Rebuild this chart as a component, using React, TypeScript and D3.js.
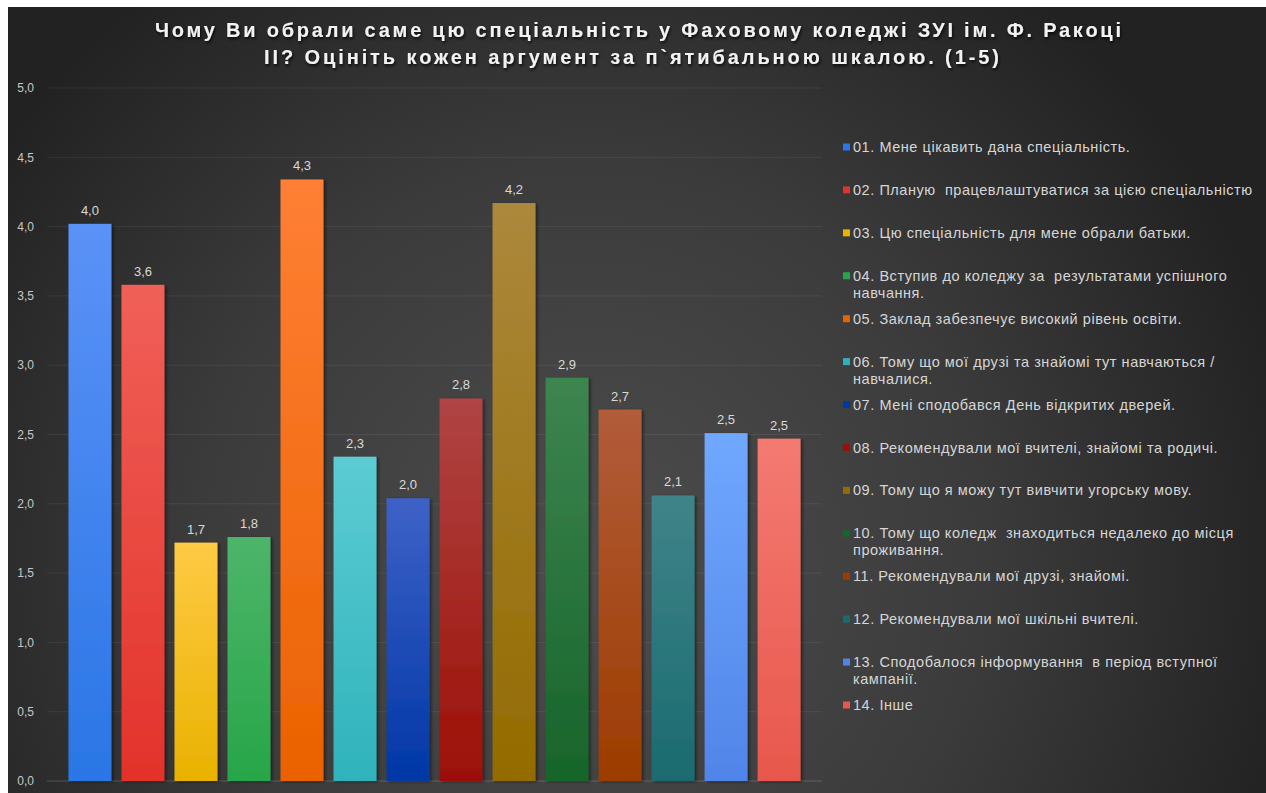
import React from 'react'
import * as d3 from 'd3'

// values
const codes = ['01', '02', '03', '04', '05', '06', '07', '08', '09', '10', '11', '12', '13', '14']
const scores = [4.02, 3.58, 1.72, 1.76, 4.34, 2.34, 2.04, 2.76, 4.17, 2.91, 2.68, 2.06, 2.51, 2.47]
const topColors = ['#5b92f7', '#f06058', '#ffca45', '#4db56a', '#ff7f35', '#5ccbd3', '#3e62c7', '#b04444', '#ac883c', '#3d8550', '#b25c3a', '#3f8489', '#70a8ff', '#f47a72']
const bottomColors = ['#2a76e6', '#e3322a', '#e9b200', '#27a649', '#ea6200', '#2fb3bb', '#0037a6', '#9c1006', '#936b00', '#17652a', '#9c3c00', '#1a6b70', '#5085e8', '#e8574c']
const legendLabels = [
  ['01. Мене цікавить дана спеціальність.'],
  ['02. Планую  працевлаштуватися за цією спеціальністю'],
  ['03. Цю спеціальність для мене обрали батьки.'],
  ['04. Вступив до коледжу за  результатами успішного', 'навчання.'],
  ['05. Заклад забезпечує високий рівень освіти.'],
  ['06. Тому що мої друзі та знайомі тут навчаються /', 'навчалися.'],
  ['07. Мені сподобався День відкритих дверей.'],
  ['08. Рекомендували мої вчителі, знайомі та родичі.'],
  ['09. Тому що я можу тут вивчити угорську мову.'],
  ['10. Тому що коледж  знаходиться недалеко до місця', 'проживання.'],
  ['11. Рекомендували мої друзі, знайомі.'],
  ['12. Рекомендували мої шкільні вчителі.'],
  ['13. Сподобалося інформування  в період вступної', 'кампанії.'],
  ['14. Інше'],
]
const yTicks = [0, 0.5, 1, 1.5, 2, 2.5, 3, 3.5, 4, 4.5, 5]
const titleLines = [
  'Чому Ви обрали саме цю спеціальність у Фаховому коледжі ЗУІ ім. Ф. Ракоці',
  'ІІ? Оцініть кожен аргумент за п`ятибальною шкалою. (1-5)',
]

const W = 1266
const H = 793
const plot = { left: 47, right: 822, top: 88, bottom: 781 }
const font = '"Liberation Sans", Arial, sans-serif'

// keep the double spaces of the original labels
const keepSpaces = (s: string) => s.replace(/  /g, ' \u00a0')

export default function App() {
  const x = d3.scaleBand<string>()
    .domain(codes)
    .range([plot.left, plot.right])
    .paddingInner(0.19)
    .paddingOuter(0.405)
  const y = d3.scaleLinear().domain([0, 5]).range([plot.bottom, plot.top])
  const fmt = (v: number) => d3.format('.1f')(v).replace('.', ',')

  const legendY = d3.scalePoint<string>().domain(codes).range([147, 705])

  return (
    <svg width={W} height={H} style={{ position: 'absolute', left: 0, top: 0, fontFamily: font }}>
      <defs>
        <radialGradient id="bg" gradientUnits="userSpaceOnUse" cx={590} cy={560} r={720}>
          <stop offset="0" stopColor="#4d4d4d" />
          <stop offset="0.55" stopColor="#3b3b3b" />
          <stop offset="1" stopColor="#222222" />
        </radialGradient>
        {codes.map((c, i) => (
          <linearGradient key={c} id={`bar${i}`} x1="0" y1="0" x2="0" y2="1">
            <stop offset="0" stopColor={topColors[i]} />
            <stop offset="1" stopColor={bottomColors[i]} />
          </linearGradient>
        ))}
        <filter id="shadow" x="-20%" y="-5%" width="140%" height="110%">
          <feDropShadow dx="2" dy="1" stdDeviation="1.5" floodColor="#000" floodOpacity="0.45" />
        </filter>
        <filter id="tshadow" x="-5%" y="-30%" width="110%" height="160%">
          <feDropShadow dx="1" dy="2" stdDeviation="1.5" floodColor="#000" floodOpacity="0.8" />
        </filter>
      </defs>

      <rect x={0} y={0} width={W} height={H} fill="#ffffff" />
      <rect x={8} y={7} width={W - 8} height={H - 7} fill="url(#bg)" />

      {/* title */}
      <g fill="#f2f2f2" fontWeight="bold" fontSize={20} filter="url(#tshadow)">
        <text x={155} y={37} textLength={966} lengthAdjust="spacing">{titleLines[0]}</text>
        <text x={264} y={64} textLength={735} lengthAdjust="spacing">{titleLines[1]}</text>
      </g>

      {/* gridlines and y axis */}
      {yTicks.map(t => (
        <g key={t}>
          <line
            x1={plot.left}
            x2={plot.right}
            y1={y(t)}
            y2={y(t)}
            stroke={t === 0 ? 'rgba(255,255,255,0.18)' : 'rgba(255,255,255,0.07)'}
            strokeWidth={1}
          />
          <text x={34} y={y(t)} dy="0.35em" textAnchor="end" fontSize={12} fill="#c8c8c8">
            {fmt(t)}
          </text>
        </g>
      ))}

      {/* bars */}
      {scores.map((v, i) => (
        <rect
          key={codes[i]}
          x={x(codes[i])}
          y={y(v)}
          width={x.bandwidth()}
          height={y(0) - y(v)}
          fill={`url(#bar${i})`}
          filter="url(#shadow)"
        />
      ))}

      {/* value labels */}
      {scores.map((v, i) => (
        <text
          key={codes[i]}
          x={(x(codes[i]) ?? 0) + x.bandwidth() / 2}
          y={y(v) - 9}
          textAnchor="middle"
          fontSize={13}
          fill="#d9d9d9"
        >
          {fmt(v)}
        </text>
      ))}

      {/* legend */}
      <g fontSize={14.5} fill="#d6d6d6" letterSpacing={0.55}>
        {legendLabels.map((lines, i) => {
          const cy = legendY(codes[i]) ?? 0
          return (
            <g key={codes[i]}>
              <rect x={843} y={cy - 3.5} width={7} height={7} fill={bottomColors[i]} />
              {lines.map((ln, j) => (
                <text key={j} x={853} y={cy + j * 17} dy="0.35em">
                  {keepSpaces(ln)}
                </text>
              ))}
            </g>
          )
        })}
      </g>
    </svg>
  )
}
